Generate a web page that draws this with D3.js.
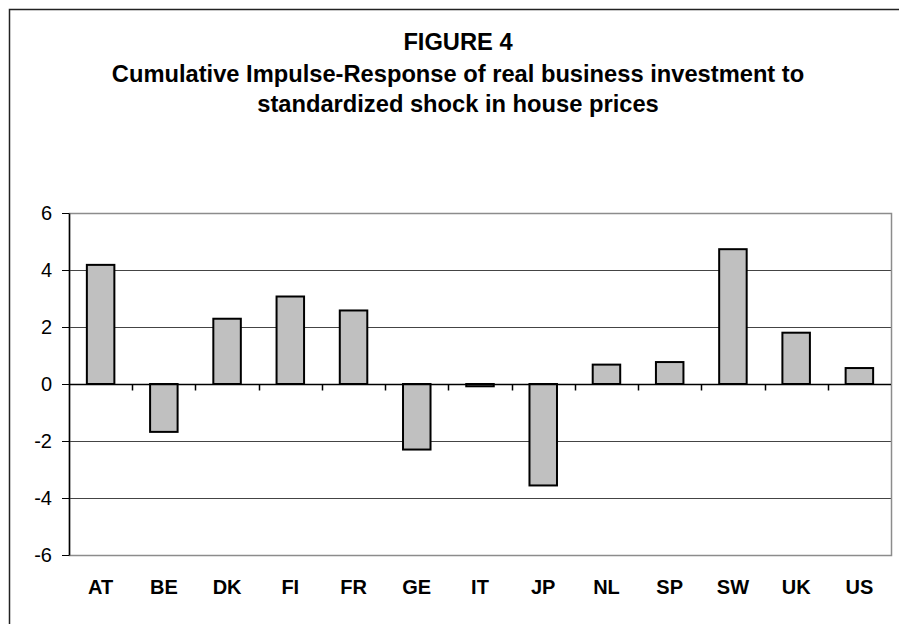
<!DOCTYPE html>
<html lang="en">
  <head>
    <meta charset="UTF-8" />
    <title>Figure 4</title>
    <style>
      body { margin: 0; background: #fff; }
      text { font-family: "Liberation Sans", Arial, sans-serif; }
    </style>
  </head>
  <body>
    <div id="chart"></div>

    <script src="https://d3js.org/d3.v7.min.js"></script>

    <script>
      // values
      const countries = ["AT", "BE", "DK", "FI", "FR", "GE", "IT", "JP", "NL", "SP", "SW", "UK", "US"];
      const responses = [4.18, -1.68, 2.29, 3.07, 2.58, -2.30, -0.08, -3.56, 0.68, 0.77, 4.73, 1.80, 0.56];
      const yTicks = [-6, -4, -2, 0, 2, 4, 6];
      const titleLines = [
        "FIGURE 4",
        "Cumulative Impulse-Response of real business investment to",
        "standardized shock in house prices"
      ];

      const width = 899;
      const height = 624;
      const marginLeft = 69, marginRight = 8, marginTop = 213, marginBottom = 69;

      const svg = d3.select("#chart").append("svg")
          .attr("width", width)
          .attr("height", height)
          .attr("viewBox", [0, 0, width, height]);

      // outer chart frame (runs off the right and bottom edge)
      svg.append("rect")
          .attr("x", 9.5)
          .attr("y", 9.5)
          .attr("width", 899)
          .attr("height", 640)
          .attr("fill", "#fff")
          .attr("stroke", "#222")
          .attr("stroke-width", 1.5);

      // title
      svg.append("g")
          .attr("font-weight", "bold")
          .attr("font-size", 23.7)
          .attr("text-anchor", "middle")
        .selectAll("text")
        .data(titleLines)
        .join("text")
          .attr("x", 458)
          .attr("y", (d, i) => [50, 82, 112][i])
          .text(d => d);

      const x = d3.scaleBand(countries, [marginLeft, width - marginRight])
          .paddingInner(0.565)
          .paddingOuter(0.2825);
      const xEdge = d3.scaleBand(countries, [marginLeft, width - marginRight]);
      const y = d3.scaleLinear([-6, 6], [height - marginBottom, marginTop]);

      // gridlines
      svg.append("g")
          .attr("stroke", "#444")
          .attr("stroke-width", 1)
        .selectAll("line")
        .data(yTicks.filter(t => t !== 0 && Math.abs(t) !== 6))
        .join("line")
          .attr("x1", marginLeft)
          .attr("x2", width - marginRight)
          .attr("y1", d => Math.round(y(d)) + 0.5)
          .attr("y2", d => Math.round(y(d)) + 0.5);

      // plot area border
      svg.append("rect")
          .attr("x", marginLeft + 0.5)
          .attr("y", Math.round(y(6)) + 0.5)
          .attr("width", width - marginRight - marginLeft)
          .attr("height", Math.round(y(-6)) - Math.round(y(6)))
          .attr("fill", "none")
          .attr("stroke", "#8c8c8c")
          .attr("stroke-width", 1.5);

      // bars
      svg.append("g")
        .selectAll("rect")
        .data(countries)
        .join("rect")
          .attr("x", d => x(d))
          .attr("y", (d, i) => Math.min(y(0), y(responses[i])))
          .attr("width", x.bandwidth())
          .attr("height", (d, i) => Math.abs(y(0) - y(responses[i])))
          .attr("fill", "#c0c0c0")
          .attr("stroke", "#000")
          .attr("stroke-width", 2);

      // y axis, plain hyphen for negatives as in the original
      svg.append("g")
          .attr("transform", `translate(${marginLeft},0)`)
          .call(d3.axisLeft(y).tickValues(yTicks).tickFormat(d => String(d))
              .tickSizeInner(7).tickSizeOuter(0).tickPadding(10))
          .call(g => g.select(".domain").attr("stroke", "#000").attr("stroke-width", 1.5))
          .call(g => g.selectAll(".tick line").attr("stroke", "#000"))
          .call(g => g.selectAll(".tick text")
              .attr("font-family", "\"Liberation Sans\", Arial, sans-serif")
              .attr("font-size", 20)
              .attr("fill", "#000"));

      // x axis at zero with ticks between categories
      const xAxisY = Math.round(y(0)) + 0.5;
      svg.append("line")
          .attr("x1", marginLeft)
          .attr("x2", width - marginRight)
          .attr("y1", xAxisY)
          .attr("y2", xAxisY)
          .attr("stroke", "#000")
          .attr("stroke-width", 1.5);

      svg.append("g")
          .attr("stroke", "#000")
          .attr("stroke-width", 1.5)
        .selectAll("line")
        .data(countries.slice(1))
        .join("line")
          .attr("x1", d => Math.round(xEdge(d)) + 0.5)
          .attr("x2", d => Math.round(xEdge(d)) + 0.5)
          .attr("y1", xAxisY)
          .attr("y2", xAxisY + 6);

      // category labels below the plot
      svg.append("g")
          .attr("font-weight", "bold")
          .attr("font-size", 20)
          .attr("text-anchor", "middle")
        .selectAll("text")
        .data(countries)
        .join("text")
          .attr("x", d => xEdge(d) + xEdge.bandwidth() / 2)
          .attr("y", 594)
          .text(d => d);
    </script>
  </body>
</html>
